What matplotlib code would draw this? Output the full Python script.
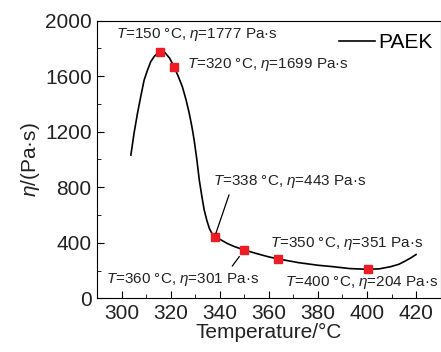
import matplotlib.pyplot as plt
import numpy as np

plt.rcParams['font.family'] = ['Liberation Sans', 'DejaVu Sans']
plt.rcParams['mathtext.fontset'] = 'custom'
plt.rcParams['mathtext.rm'] = 'Liberation Sans'
plt.rcParams['mathtext.it'] = 'Liberation Sans:italic'

# curve
curve_t = [303.7, 305, 306.4, 307.8, 309.1, 310.5, 311.8, 313.2, 314.5, 315.9,
           317.5, 319.5, 321.3, 323, 324.7, 326.2, 327.5, 328.6, 329.5, 330.6,
           331.6, 332.6, 333.6, 334.7, 335.7, 336.8, 338, 340, 343, 346,
           350, 355, 360, 364, 372, 380, 386, 393, 400, 405,
           409.7, 413, 415.1, 417.5, 420]
curve_eta = [1032, 1190, 1333, 1460, 1572, 1645, 1705, 1742, 1765, 1777,
             1772, 1730, 1668, 1600, 1524, 1430, 1333, 1235, 1140, 1000,
             852, 740, 636, 560, 504, 465, 443, 425, 395, 372,
             348, 322, 298, 283, 257, 238, 228, 214, 209, 212,
             228, 245, 264, 287, 315]

# marked points
mark_t = [315.5, 321.3, 338.1, 349.9, 363.8, 400.4]
mark_eta = [1777, 1668, 440, 348, 283, 210]

labels = [r"$T$=150 °C, $\eta$=1777 Pa·s",
          r"$T$=320 °C, $\eta$=1699 Pa·s",
          r"$T$=338 °C, $\eta$=443 Pa·s",
          r"$T$=350 °C, $\eta$=351 Pa·s",
          r"$T$=360 °C, $\eta$=301 Pa·s",
          r"$T$=400 °C, $\eta$=204 Pa·s"]
label_xy = [(297.7, 1904), (326.6, 1681), (337.0, 840),
            (360.4, 396), (293.6, 132), (366.5, 112)]

fig = plt.figure(figsize=(4.41, 3.52), dpi=100)
ax = fig.add_axes([0.2206, 0.1526, 0.7784, 0.7886])

ax.plot(curve_t, curve_eta, color='black', lw=1.2, label='PAEK')
ax.plot(mark_t, mark_eta, ls='none', marker='s', ms=6, color='#ee1c25')

for txt, (x, y) in zip(labels, label_xy):
    ax.text(x, y, txt, fontsize=11, ha='left', va='center', color='#222222')

# leader lines
ax.plot([338.4, 343.7], [470, 744], color='black', lw=0.9)
ax.plot([347.9, 345.1], [300, 233], color='black', lw=0.9)

ax.set_xlim(290, 430)
ax.set_ylim(0, 2000)
ax.set_xticks(np.arange(300, 421, 20))
ax.set_xticks(np.arange(290, 431, 10), minor=True)
ax.set_yticks(np.arange(0, 2001, 400))
ax.set_yticks(np.arange(0, 2001, 200), minor=True)
ax.tick_params(which='both', direction='in', top=False, right=False,
               labelsize=15, colors='black', labelcolor='#222222')
ax.tick_params(which='major', length=5, pad=4)
ax.tick_params(which='minor', length=3)
ax.set_xlabel('Temperature/°C', fontsize=15, color='#222222', labelpad=0)
ax.set_ylabel(r'$\eta$/(Pa·s)', fontsize=15, color='#222222', labelpad=2)

ax.legend(loc='upper right', frameon=False, fontsize=15, handlelength=1.7,
          handletextpad=0.15, borderaxespad=0.0, bbox_to_anchor=(1.0, 0.985))

fig.savefig('out.png', dpi=100)
